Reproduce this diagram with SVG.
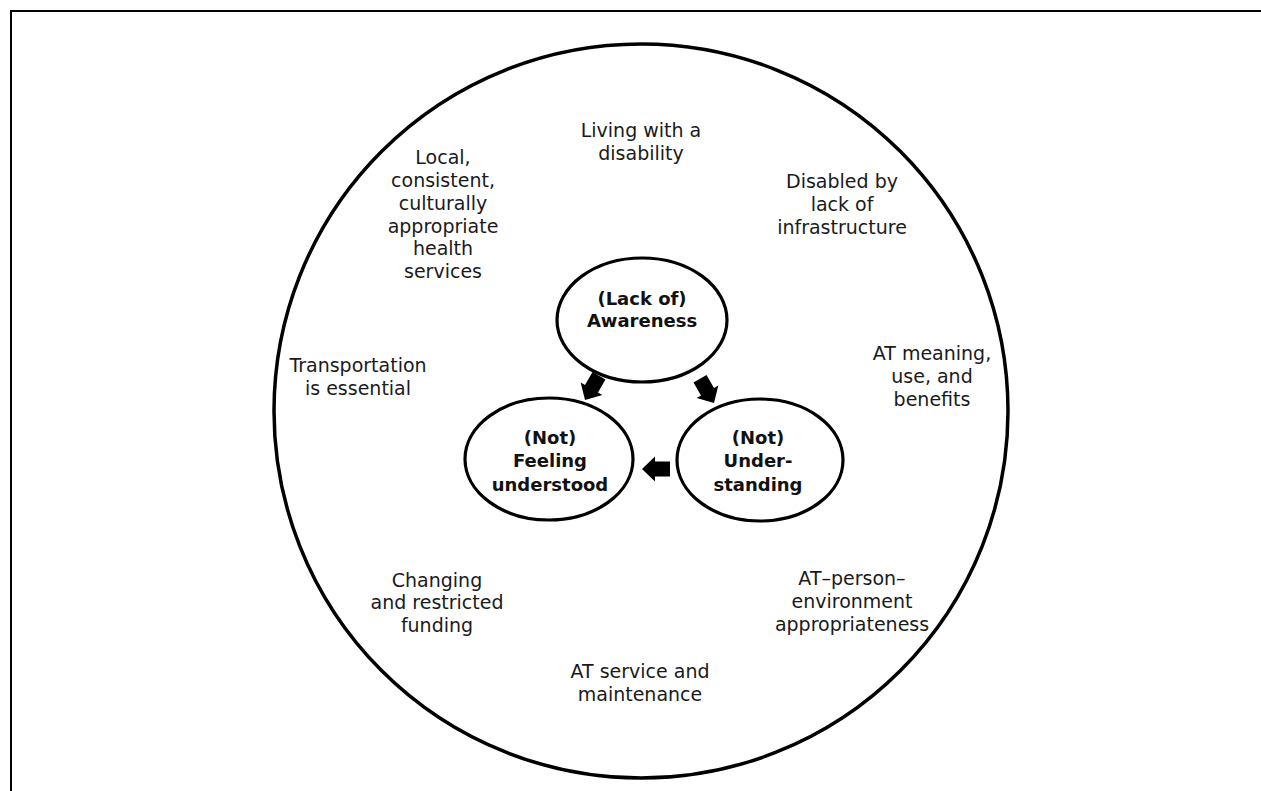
<svg xmlns="http://www.w3.org/2000/svg" width="1261" height="791" viewBox="0 0 1261 791">
<style>
.t{font-family:"DejaVu Sans",sans-serif;font-size:19px;fill:#1a1a1a;text-anchor:middle}
.b{font-family:"DejaVu Sans",sans-serif;font-size:18px;font-weight:bold;fill:#111;text-anchor:middle}
.node{fill:#fff;stroke:#000;stroke-width:3.2}
</style>
<defs>
<path id="arr" d="M0,0 L-13,-12.5 L-13,-7.5 L-28,-7.5 L-28,7.5 L-13,7.5 L-13,12.5 Z" fill="#000"/>
</defs>
<rect width="1261" height="791" fill="#fff"/>
<g id="frame" stroke="#000" stroke-width="2" fill="none">
<path d="M10,11 H1261 M11,11 V791"/>
</g>
<g id="outer">
<circle cx="641" cy="411" r="367" fill="none" stroke="#000" stroke-width="3.5"/>
</g>
<g id="labels">
<text class="t"><tspan x="641" y="137">Living with a</tspan><tspan x="641" y="160">disability</tspan></text>
<text class="t"><tspan x="443" y="164">Local,</tspan><tspan x="443" y="187">consistent,</tspan><tspan x="443" y="210">culturally</tspan><tspan x="443" y="233">appropriate</tspan><tspan x="443" y="255">health</tspan><tspan x="443" y="278">services</tspan></text>
<text class="t"><tspan x="842" y="188">Disabled by</tspan><tspan x="842" y="211">lack of</tspan><tspan x="842" y="234">infrastructure</tspan></text>
<text class="t"><tspan x="932" y="360">AT meaning,</tspan><tspan x="932" y="383">use, and</tspan><tspan x="932" y="406">benefits</tspan></text>
<text class="t"><tspan x="358" y="372">Transportation</tspan><tspan x="358" y="395">is essential</tspan></text>
<text class="t"><tspan x="437" y="587">Changing</tspan><tspan x="437" y="609">and restricted</tspan><tspan x="437" y="632">funding</tspan></text>
<text class="t"><tspan x="852" y="585">AT–person–</tspan><tspan x="852" y="608">environment</tspan><tspan x="852" y="631">appropriateness</tspan></text>
<text class="t"><tspan x="640" y="678">AT service and</tspan><tspan x="640" y="701">maintenance</tspan></text>
</g>
<g id="awareness">
<ellipse class="node" cx="642" cy="320" rx="85" ry="62"/>
<text class="b"><tspan x="642" y="305">(Lack of)</tspan><tspan x="642" y="327">Awareness</tspan></text>
</g>
<g id="feeling">
<ellipse class="node" cx="549" cy="459" rx="84" ry="61"/>
<text class="b"><tspan x="550" y="444">(Not)</tspan><tspan x="550" y="467">Feeling</tspan><tspan x="550" y="491">understood</tspan></text>
</g>
<g id="understanding">
<ellipse class="node" cx="760" cy="460" rx="83" ry="61"/>
<text class="b"><tspan x="758" y="444">(Not)</tspan><tspan x="758" y="467">Under-</tspan><tspan x="758" y="491">standing</tspan></text>
</g>
<g id="connectors">
<use href="#arr" transform="translate(585,400) rotate(120)"/>
<use href="#arr" transform="translate(714,403) rotate(60)"/>
<use href="#arr" transform="translate(642,469) rotate(180)"/>
</g>
</svg>
